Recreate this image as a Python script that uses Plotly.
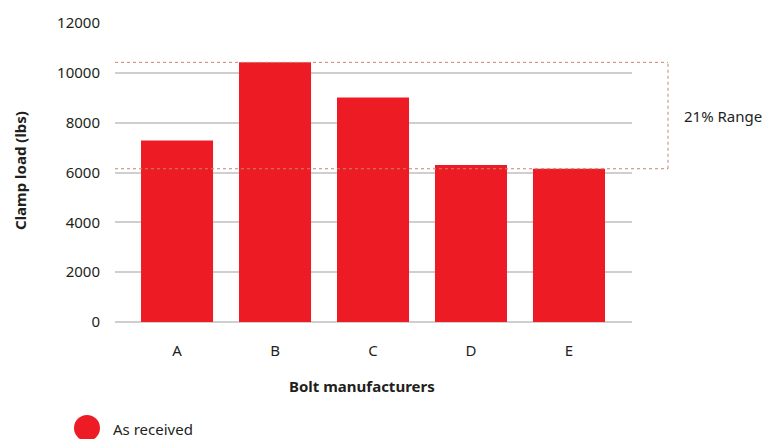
import plotly.graph_objects as go

manufacturers = ["A", "B", "C", "D", "E"]
clamp_load = [7280, 10420, 9010, 6300, 6150]
y_ticks = [0, 2000, 4000, 6000, 8000, 10000, 12000]
range_label = "21% Range"
series_name = "As received"

RED = "#ED1C24"
TEXT = "#231F20"
FONT = "Noto Sans"

# plot area in pixels, used to place paper-referenced decorations
L, R, T, B = 115, 133, 23, 117
W, H = 765, 439
PW, PH = W - L - R, H - T - B


def px(x):
    return (x - L) / PW


def py(y):
    return (H - B - y) / PH


fig = go.Figure()
fig.add_trace(go.Bar(
    x=list(range(len(manufacturers))), y=clamp_load,
    marker=dict(color=RED, line=dict(width=0)),
    name=series_name, showlegend=False, hoverinfo="x+y",
))

# dotted bracket spanning the highest and lowest clamp loads
hi, lo = max(clamp_load), min(clamp_load)
box_right = px(668)
dot = dict(color="#C98272", width=1, dash="dot")
for yv in (hi, lo):
    fig.add_shape(type="line", xref="paper", yref="y", x0=0, x1=box_right,
                  y0=yv, y1=yv, line=dot, layer="above")
fig.add_shape(type="line", xref="paper", yref="y", x0=box_right, x1=box_right,
              y0=lo, y1=hi, line=dot, layer="above")
fig.add_annotation(xref="paper", yref="y", x=px(682), y=(hi + lo) / 2,
                   text=range_label, showarrow=False, xanchor="left",
                   font=dict(family=FONT, size=15, color=TEXT))

# axis titles
fig.add_annotation(xref="paper", yref="paper", x=px(362), y=py(386),
                   text="<b>Bolt manufacturers</b>", showarrow=False,
                   xanchor="center", yanchor="middle",
                   font=dict(family=FONT, size=15, color=TEXT))
fig.add_annotation(xref="paper", yref="paper", x=px(20), y=py(171),
                   text="<b>Clamp load (lbs)</b>", showarrow=False, textangle=-90,
                   xanchor="center", yanchor="middle",
                   font=dict(family=FONT, size=15, color=TEXT))

# legend marker and label
fig.add_shape(type="circle", xref="paper", yref="paper",
              x0=px(74), x1=px(100), y0=py(441), y1=py(415),
              fillcolor=RED, line=dict(width=0))
fig.add_annotation(xref="paper", yref="paper", x=px(111), y=py(429),
                   text=series_name, showarrow=False,
                   xanchor="left", yanchor="middle",
                   font=dict(family=FONT, size=15, color=TEXT))

fig.update_layout(
    width=W, height=H,
    margin=dict(l=L, r=R, t=T, b=B),
    paper_bgcolor="white", plot_bgcolor="white",
    bargap=0.265,
    font=dict(family=FONT, size=15, color=TEXT),
    xaxis=dict(
        tickmode="array", tickvals=list(range(len(manufacturers))),
        ticktext=manufacturers, range=[-0.633, 4.643],
        showgrid=False, zeroline=False, showline=False, ticks="",
        ticklabelstandoff=18,
        tickfont=dict(family=FONT, size=15, color=TEXT),
    ),
    yaxis=dict(
        range=[0, 12000], tickmode="array", tickvals=y_ticks,
        ticktext=[str(v) for v in y_ticks], showgrid=True,
        gridcolor="#CFCFCF", gridwidth=1.5, zeroline=True,
        zerolinecolor="#CFCFCF", zerolinewidth=1.5,
        ticks="", ticklabelstandoff=14,
        tickfont=dict(family=FONT, size=15, color=TEXT),
    ),
)

fig.write_html("out.html")
